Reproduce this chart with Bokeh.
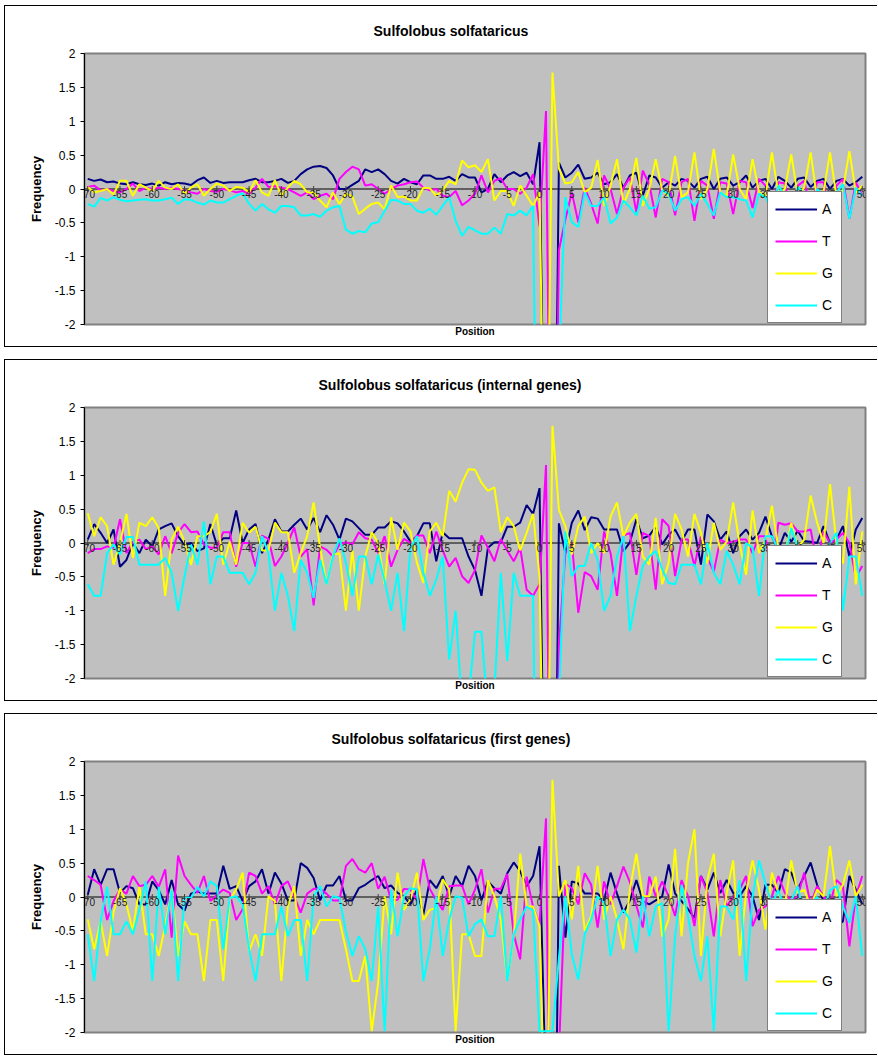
import math
from bokeh.plotting import figure
from bokeh.models import (Range1d, FixedTicker, CustomJSTickFormatter, Span, Legend,
                          LegendItem, Title)
from bokeh.layouts import column
from bokeh.embed import file_html
from bokeh.resources import INLINE
from bokeh.core.properties import value

# ---------------- data ----------------
positions = list(range(-70, 51))
tick_positions = list(range(-70, 51, 5))
tick_labels = [str(v) for v in tick_positions]
y_ticks = [-2, -1.5, -1, -0.5, 0, 0.5, 1, 1.5, 2]
series_names = ["A", "T", "G", "C"]
series_colors = ["#000080", "#FF00FF", "#FFFF00", "#00FFFF"]
titles = ["Sulfolobus solfataricus",
          "Sulfolobus solfataricus (internal genes)",
          "Sulfolobus solfataricus (first genes)"]

# panel 1: all genes
a_all = [0.15, 0.12, 0.14, 0.10, 0.11, 0.08, 0.07, 0.10, 0.07, 0.06, 0.08, 0.05, 0.10, 0.07, 0.09,
         0.08, 0.06, 0.13, 0.17, 0.09, 0.12, 0.09, 0.10, 0.10, 0.10, 0.13, 0.15, 0.10, 0.10, 0.12,
         0.15, 0.09, 0.12, 0.22, 0.29, 0.33, 0.34, 0.31, 0.20, 0.00, 0.00, 0.06, 0.12, 0.29, 0.25,
         0.29, 0.22, 0.12, 0.08, 0.15, 0.10, 0.07, 0.20, 0.20, 0.15, 0.15, 0.18, 0.12, 0.22, 0.17,
         0.17, -0.05, 0.00, 0.22, 0.10, 0.20, 0.25, 0.19, 0.24, 0.07, 0.69, -6.0, -8.0, 0.39, 0.17,
         0.24, 0.36, 0.15, 0.17, 0.24, 0.07, 0.10, 0.22, 0.02, 0.20, 0.24, -0.10, 0.20, 0.17, 0.02, 0.10,
         0.05, 0.15, 0.12, 0.02, 0.15, 0.18, 0.00, 0.15, 0.17, 0.05, 0.10, 0.20, 0.02, 0.12, 0.15,
         0.00, 0.18, 0.12, 0.02, 0.15, 0.17, 0.03, 0.12, 0.15, 0.00, 0.12, 0.15, 0.05, 0.10, 0.18]
t_all = [0.03, 0.05, -0.02, 0.00, -0.03, -0.05, 0.00, 0.08, -0.03, 0.02, 0.00, 0.02, 0.00, 0.02, 0.00,
         -0.02, -0.05, -0.07, 0.00, -0.03, -0.04, 0.00, -0.02, -0.05, -0.03, -0.07, 0.02, 0.15, 0.03, 0.04,
         0.02, 0.00, -0.05, -0.10, -0.05, -0.15, -0.10, -0.07, -0.15, 0.15, 0.25, 0.33, 0.29, 0.05, 0.07,
         0.00, -0.07, 0.00, 0.05, 0.07, 0.10, 0.11, 0.02, -0.02, 0.00, -0.10, -0.12, -0.03, -0.24, -0.17,
         -0.07, 0.20, -0.05, 0.12, 0.16, 0.00, 0.00, -0.07, 0.02, 0.22, -0.55, 1.15, -8.0, -0.90, -0.45,
         -0.05, -0.49, 0.02, -0.22, -0.51, 0.20, 0.00, -0.37, 0.02, 0.17, -0.34, 0.27, 0.07, -0.42, 0.15, 0.10,
         -0.39, 0.10, 0.15, -0.47, 0.12, 0.05, -0.44, 0.10, 0.08, -0.37, 0.12, 0.10, -0.28, 0.15, 0.05,
         -0.30, 0.10, 0.08, -0.35, 0.05, 0.12, -0.30, 0.10, 0.10, -0.35, 0.05, 0.15, -0.44, 0.10, -0.10]
g_all = [0.03, -0.05, -0.03, 0.00, -0.08, 0.12, 0.12, -0.10, 0.07, 0.02, -0.03, 0.12, 0.02, 0.00, 0.07,
         -0.07, 0.02, 0.07, -0.10, 0.00, 0.08, 0.05, -0.03, 0.03, 0.02, -0.05, 0.13, -0.05, -0.10, 0.13,
         -0.10, 0.02, 0.12, 0.07, -0.05, -0.05, -0.17, -0.27, -0.05, -0.22, -0.07, -0.11, -0.37, -0.29, -0.22,
         -0.20, -0.30, 0.05, -0.12, -0.11, -0.17, -0.17, 0.02, 0.01, -0.10, -0.02, 0.12, 0.07, 0.42, 0.32,
         0.35, 0.25, 0.44, -0.17, -0.03, -0.03, -0.25, 0.05, -0.10, -0.25, -0.05, -6.0, 1.72, 0.30, 0.08,
         0.10, 0.25, -0.05, 0.02, 0.43, -0.25, 0.05, 0.44, -0.22, 0.00, 0.46, -0.25, 0.00, 0.44, -0.02, -0.10,
         0.49, -0.12, -0.05, 0.54, -0.15, 0.00, 0.59, -0.05, -0.10, 0.51, 0.00, -0.15, 0.44, -0.05, -0.10,
         0.54, -0.08, 0.00, 0.51, -0.10, 0.02, 0.54, -0.15, -0.05, 0.54, -0.12, -0.02, 0.56, -0.05, 0.05]
c_all = [-0.22, -0.26, -0.13, -0.17, -0.12, -0.16, -0.18, -0.17, -0.16, -0.15, -0.17, -0.17, -0.15, -0.13, -0.22,
         -0.15, -0.16, -0.20, -0.23, -0.17, -0.20, -0.20, -0.15, -0.10, -0.06, -0.22, -0.32, -0.22, -0.30, -0.35,
         -0.25, -0.25, -0.27, -0.39, -0.39, -0.37, -0.41, -0.32, -0.27, -0.25, -0.60, -0.66, -0.62, -0.64, -0.51,
         -0.49, -0.32, -0.16, -0.17, -0.22, -0.22, -0.32, -0.35, -0.29, -0.38, -0.25, -0.12, -0.47, -0.69, -0.56,
         -0.61, -0.66, -0.66, -0.57, -0.66, -0.37, -0.39, -0.32, -0.39, -0.25, -8.0, -8.0, -8.0, -2.5, -0.12,
         -0.49, -0.56, -0.05, -0.25, -0.25, -0.12, -0.51, -0.42, -0.17, -0.27, -0.39, -0.10, -0.29, -0.27, -0.02, -0.07,
         -0.32, -0.15, -0.12, -0.25, -0.07, -0.22, -0.39, -0.05, -0.12, -0.12, -0.15, -0.17, -0.42, -0.07, -0.12,
         -0.35, 0.05, -0.10, -0.38, 0.03, -0.08, -0.36, 0.00, -0.10, -0.35, -0.05, 0.07, -0.44, 0.02, -0.10]

# panel 2: internal genes
a_internal = [0.05, 0.28, 0.15, 0.00, 0.20, -0.35, -0.25, 0.00, -0.15, 0.05, -0.05, 0.20, 0.25, 0.29, 0.10,
              -0.03, 0.00, -0.12, -0.08, 0.28, -0.03, 0.07, 0.07, 0.48, 0.00, 0.20, 0.28, -0.15, 0.05, 0.35,
              0.17, 0.17, 0.27, 0.36, 0.20, 0.37, 0.16, 0.41, 0.27, 0.05, 0.36, 0.32, 0.22, 0.12, 0.12,
              0.23, 0.23, 0.32, 0.29, 0.17, 0.02, 0.10, 0.29, 0.29, -0.27, 0.16, 0.07, 0.07, 0.07, -0.20,
              -0.40, -0.78, -0.07, 0.01, 0.01, 0.24, 0.24, 0.30, 0.56, 0.43, 0.81, -6.0, -8.0, 0.29, -0.15,
              0.30, 0.48, 0.19, 0.38, 0.36, 0.20, 0.20, 0.20, -0.12, 0.01, 0.35, 0.07, 0.11, 0.24, -0.02, 0.12,
              0.20, 0.02, 0.20, 0.20, -0.32, 0.42, 0.32, 0.05, 0.17, -0.15, 0.10, 0.20, 0.05, 0.15, 0.39,
              0.10, -0.10, 0.15, 0.02, 0.18, 0.03, 0.02, 0.00, 0.25, 0.00, 0.05, 0.25, -0.20, 0.20, 0.37]
t_internal = [-0.15, -0.09, -0.09, -0.05, -0.07, 0.35, -0.15, 0.02, 0.05, -0.09, -0.05, -0.17, 0.10, -0.15, 0.15,
              0.28, 0.16, 0.17, -0.02, -0.07, -0.07, 0.16, 0.16, -0.35, 0.00, 0.00, -0.35, 0.11, 0.06, -0.34,
              -0.20, 0.00, 0.23, -0.20, -0.09, -0.92, -0.05, -0.10, -0.20, -0.02, 0.01, -0.02, 0.16, 0.07, 0.05,
              -0.15, 0.10, -0.35, -0.10, 0.06, 0.00, 0.11, 0.11, -0.15, 0.17, -0.11, -0.35, -0.22, -0.49, -0.59,
              -0.40, 0.11, -0.07, -0.27, 0.06, -0.11, -0.27, -0.07, -0.69, -0.78, -0.61, 1.15, -8.0, -1.50, -0.15,
              0.00, -1.03, -0.43, -0.49, -0.69, 0.17, -0.15, -0.78, 0.11, 0.15, -0.47, 0.15, 0.10, -0.69, 0.35, 0.25,
              -0.49, 0.05, 0.05, -0.34, 0.10, -0.22, -0.42, 0.05, 0.00, 0.02, 0.05, 0.05, -0.15, 0.10, 0.10,
              -0.49, 0.30, 0.27, 0.29, 0.17, 0.17, 0.20, -0.30, 0.17, 0.00, 0.05, 0.15, 0.00, -0.51, -0.34]
g_internal = [0.44, 0.10, 0.38, 0.25, -0.32, 0.00, 0.43, -0.22, 0.30, 0.25, 0.38, 0.22, -0.78, 0.05, 0.24,
              0.02, -0.32, 0.10, 0.10, 0.16, 0.43, -0.32, 0.02, -0.32, 0.30, 0.15, 0.24, -0.11, -0.11, 0.30,
              0.16, 0.16, -0.44, -0.15, 0.10, 0.60, -0.07, -0.61, -0.17, -0.15, -1.00, -0.11, -1.00, -0.20, 0.16,
              0.00, -0.61, 0.38, -0.10, 0.30, 0.17, -0.29, -0.59, 0.17, 0.30, 0.10, 0.77, 0.61, 0.89, 1.09,
              1.08, 0.89, 0.77, 0.82, 0.16, 0.38, 0.25, -0.11, 0.15, 0.43, -0.50, -6.0, 1.73, 0.49, 0.25,
              -0.17, 0.25, 0.39, -0.15, 0.00, -0.15, 0.39, 0.60, 0.10, 0.30, 0.43, -0.20, -0.32, 0.37, -0.61, -0.29,
              0.43, 0.20, -0.20, 0.43, 0.15, -0.30, 0.30, -0.10, 0.02, 0.60, -0.02, -0.47, 0.48, -0.15, 0.05,
              0.55, -0.08, -0.20, 0.30, -0.07, 0.05, 0.70, 0.30, 0.00, 0.87, 0.00, -0.30, 0.83, -0.61, 0.17]
c_internal = [-0.61, -0.78, -0.78, -0.15, -0.02, -0.17, 0.09, 0.09, -0.32, -0.32, -0.32, -0.32, -0.22, -0.44, -1.00,
              -0.49, -0.02, -0.32, 0.32, -0.61, -0.20, -0.20, -0.44, -0.44, -0.44, -0.61, -0.44, 0.10, -0.15, -1.00,
              -0.44, -0.78, -1.30, -0.25, -0.44, -0.81, -0.25, -0.61, -0.20, 0.07, -0.29, -0.78, -0.20, -0.20, -0.61,
              -0.17, -0.56, -1.00, -0.44, -1.30, -0.07, 0.10, -0.44, -0.78, -0.54, -0.20, -1.72, -1.00, -2.40, -2.30,
              -1.31, -1.31, -2.50, -2.20, -0.44, -1.74, -0.44, -0.78, -0.78, -0.78, -8.0, -8.0, -8.0, -2.30, 0.17,
              -0.49, -0.34, -0.34, 0.00, -0.25, -1.00, -0.78, -0.20, 0.10, -1.30, -0.78, -0.34, -0.20, -0.12, -0.39, -0.59,
              -0.61, -0.32, -0.32, -0.32, -0.61, 0.00, -0.44, -0.61, -0.12, -0.32, -0.61, 0.00, -0.07, -0.78, 0.10,
              0.10, -0.10, -0.20, 0.22, -0.07, -0.30, -0.20, -0.10, -0.30, 0.00, 0.15, -1.00, -0.20, -0.20, -0.78]

# panel 3: first genes
a_first = [0.03, 0.41, 0.18, 0.41, 0.41, 0.06, 0.16, 0.13, -0.11, -0.11, 0.23, 0.10, -0.11, 0.25, -0.11,
           -0.20, 0.05, 0.08, 0.05, 0.05, 0.05, 0.46, 0.12, 0.16, -0.06, 0.16, 0.23, 0.41, 0.05, 0.36,
           0.20, -0.05, -0.05, 0.50, 0.43, 0.28, -0.05, 0.17, 0.17, 0.31, -0.05, -0.05, 0.13, 0.18, 0.25,
           0.31, 0.13, 0.17, 0.06, 0.01, -0.11, 0.11, -0.26, 0.25, 0.13, 0.31, 0.01, 0.31, 0.16, 0.46,
           0.31, -0.05, 0.23, 0.13, 0.05, 0.35, 0.51, 0.38, 0.16, 0.31, 0.75, -3.0, -8.0, 0.46, -0.60,
           0.23, 0.20, 0.05, 0.05, 0.05, -0.05, 0.36, 0.05, -0.23, -0.05, 0.25, -0.06, -0.11, -0.05, 0.01, 0.48,
           0.05, -0.06, -0.18, -0.31, 0.31, 0.11, 0.36, 0.06, 0.25, 0.06, 0.01, 0.16, 0.01, -0.34, 0.18,
           0.18, 0.06, 0.41, 0.36, 0.11, 0.31, 0.51, 0.18, -0.06, -0.18, -0.43, -0.36, 0.31, 0.11, -0.11]
t_first = [0.31, 0.25, 0.18, -0.34, -0.06, 0.11, 0.05, 0.31, 0.16, 0.18, 0.31, 0.15, 0.41, -0.60, 0.61,
           0.31, 0.18, 0.06, 0.31, -0.06, 0.03, 0.11, 0.06, -0.34, -0.18, 0.36, 0.31, 0.05, 0.16, -0.11,
           0.16, 0.23, 0.01, -0.23, 0.05, 0.12, 0.12, 0.05, -0.05, -0.05, 0.46, 0.56, 0.41, 0.36, 0.50,
           0.12, 0.30, -0.05, -0.04, 0.12, 0.11, -0.06, 0.56, 0.12, -0.05, -0.19, 0.16, 0.17, 0.17, -0.11,
           0.11, 0.41, -0.23, 0.12, 0.12, 0.34, -0.55, -0.92, 0.30, -0.15, -0.40, 1.16, -8.0, -2.30, 0.20,
           0.13, -0.11, 0.35, 0.18, -0.45, 0.23, -0.11, 0.16, 0.45, 0.22, -0.13, -0.45, 0.30, 0.01, 0.23, 0.01,
           -0.28, 0.25, 0.01, -0.43, 0.31, 0.06, -0.58, 0.25, -0.14, 0.01, 0.11, 0.31, -0.43, -0.19, -0.14,
           0.01, 0.31, 0.06, -0.06, 0.01, 0.36, -0.11, 0.16, 0.01, -0.11, 0.25, 0.16, -0.73, 0.01, 0.31]
g_first = [-0.33, -0.77, -0.36, -0.87, -0.23, 0.13, -0.11, -0.50, 0.15, -0.55, -0.55, -0.87, -0.43, 0.11, -0.87,
           -0.36, -0.55, -0.55, -1.24, -0.34, -0.34, -1.24, -0.04, 0.11, 0.36, -0.80, -0.55, -0.87, 0.01, -0.06,
           -1.24, -0.14, 0.16, -0.87, -0.34, -0.55, -0.34, -0.34, -0.34, -0.34, -0.77, -1.24, -1.24, -0.87, -1.98,
           -1.26, 0.01, -0.55, 0.36, -0.19, -0.04, 0.36, -0.34, -0.19, -0.16, 0.26, 0.11, -1.98, -0.55, -0.55,
           -0.87, -0.87, 0.25, 0.01, -0.33, -1.22, -0.58, 0.64, -0.14, -0.14, -0.43, -4.0, 1.73, 0.01, 0.25,
           -0.33, 0.46, -0.50, -0.28, 0.46, -0.33, 0.01, -0.33, -0.77, 0.11, 0.64, 0.01, 0.01, 0.30, -0.58, -0.33,
           0.71, -0.58, 0.50, 1.00, -0.87, 0.25, 0.64, -0.58, 0.06, 0.54, -0.87, 0.06, 0.54, 0.11, -0.48,
           0.36, 0.06, -0.14, 0.54, 0.06, 0.11, -0.14, 0.11, 0.01, 0.75, 0.01, 0.18, 0.54, 0.01, 0.18]
c_first = [-0.55, -1.24, -0.36, 0.15, -0.55, -0.55, -0.36, -0.55, -0.19, 0.23, -1.24, 0.15, -0.55, 0.11, -1.24,
           -0.01, -0.01, 0.15, 0.01, 0.23, 0.16, -0.77, -0.01, 0.01, -0.11, -0.77, -1.24, -0.55, -0.55, -0.55,
           -0.14, -0.58, -0.34, -0.34, -1.24, 0.01, 0.16, -0.14, 0.01, -0.01, -0.51, -0.87, -0.58, -0.77, -1.24,
           -0.14, -1.98, 0.11, -0.58, 0.01, 0.13, 0.11, -1.24, -0.77, 0.01, -0.87, -0.34, 0.01, -0.01, -0.58,
           -0.40, -0.33, -0.58, -0.58, 0.01, -1.24, -0.55, -0.33, -0.14, -0.20, -1.98, -1.98, -1.98, -0.90, 0.01,
           -0.85, -1.22, -0.55, -0.33, 0.01, -0.09, -0.87, -0.33, -0.19, -0.33, -0.82, 0.01, -0.58, -0.14, -0.09, -1.98,
           -0.58, 0.18, -0.28, -0.87, -1.24, -0.58, -1.98, -0.14, -0.14, -0.33, 0.25, -1.24, 0.01, 0.54, 0.20,
           -0.10, 0.10, -0.20, -0.05, 0.16, -0.30, -0.10, 0.00, -0.20, 0.10, 0.16, -0.14, -0.38, 0.01, -0.87]

panels = [
    (titles[0], 289, [a_all, t_all, g_all, c_all]),
    (titles[1], 234, [a_internal, t_internal, g_internal, c_internal]),
    (titles[2], 247, [a_first, t_first, g_first, c_first]),
]

FONT = "Liberation Sans"
FIG_W, FIG_H = 873, 342
BORDER_L, BORDER_R, BORDER_T, BORDER_B = 80, 12, 47, 23


def make_panel(title_text, title_offset, series):
    p = figure(width=FIG_W, height=FIG_H,
               x_range=Range1d(-70.5, 50.5), y_range=Range1d(-2, 2),
               output_backend="svg", toolbar_location=None, tools="",
               min_border_left=BORDER_L, min_border_right=BORDER_R,
               min_border_top=BORDER_T, min_border_bottom=BORDER_B,
               background_fill_color="#C0C0C0", border_fill_color=None,
               outline_line_color="#808080", outline_line_width=2)
    p.styles = {"background-color": "white",
                "box-shadow": "inset 1px 1px 0 0 #000000, inset 0 -1px 0 0 #000000"}
    p.grid.visible = False

    # title, centred over the chart area
    p.add_layout(Title(text=title_text, align="left", offset=title_offset,
                       text_font=FONT, text_font_size="14px", text_font_style="bold",
                       text_color="black", standoff=30), "above")

    # y axis
    p.yaxis.ticker = FixedTicker(ticks=y_ticks)
    p.yaxis.formatter = CustomJSTickFormatter(code="return String(tick);")
    p.yaxis.axis_line_color = "black"
    p.yaxis.axis_line_width = 1
    p.yaxis.major_tick_line_color = "black"
    p.yaxis.major_tick_out = 4
    p.yaxis.major_tick_in = 0
    p.yaxis.minor_tick_line_color = None
    p.yaxis.major_label_standoff = 5
    p.yaxis.major_label_text_font = FONT
    p.yaxis.major_label_text_font_size = "12px"
    p.yaxis.major_label_text_color = "black"
    p.yaxis.axis_label = "Frequency"
    p.yaxis.axis_label_text_font = FONT
    p.yaxis.axis_label_text_font_size = "13px"
    p.yaxis.axis_label_text_font_style = "bold"
    p.yaxis.axis_label_text_color = "black"
    p.yaxis.axis_label_standoff = 8

    # x axis: only the label below the frame
    p.xaxis.ticker = FixedTicker(ticks=[])
    p.xaxis.axis_line_color = None
    p.xaxis.major_tick_line_color = None
    p.xaxis.minor_tick_line_color = None
    p.xaxis.major_tick_out = 0
    p.xaxis.major_label_standoff = 0
    p.xaxis.axis_label = "Position"
    p.xaxis.axis_label_text_font = FONT
    p.xaxis.axis_label_text_font_size = "10px"
    p.xaxis.axis_label_text_font_style = "bold"
    p.xaxis.axis_label_text_color = "black"
    p.xaxis.axis_label_standoff = 1

    # zero line (category axis crossing)
    p.add_layout(Span(location=0, dimension="width", line_color="#404040",
                      line_width=1.5, level="underlay"))

    items = []
    for name, color, vals in zip(series_names, series_colors, series):
        r = p.line(positions, vals, line_color=color, line_width=2)
        items.append(LegendItem(label=name, renderers=[r]))

    # category tick marks and labels on the zero line
    p.scatter(tick_positions, [0] * len(tick_positions), marker="dash", angle=math.pi / 2,
              size=6, line_color="#404040", line_width=1)
    p.text(x=tick_positions, y=[0] * len(tick_positions), text=tick_labels,
           text_align="center", text_baseline="top", y_offset=1,
           text_font=value(FONT), text_font_size=value("10px"), text_color="#222222")

    legend = Legend(items=items, location=(683, 1),
                    border_line_color="black", border_line_width=1,
                    background_fill_color="white", background_fill_alpha=1.0,
                    label_text_font=FONT, label_text_font_size="14px", label_text_color="black",
                    glyph_width=42, glyph_height=20, label_height=20, label_width=12,
                    label_standoff=5, spacing=12, padding=7, margin=0)
    p.add_layout(legend)
    return p


figs = [make_panel(t, o, s) for t, o, s in panels]
layout = column(*figs, spacing=12, margin=(5, 0, 0, 4))

with open("out.html", "w") as f:
    f.write(file_html(layout, INLINE))
